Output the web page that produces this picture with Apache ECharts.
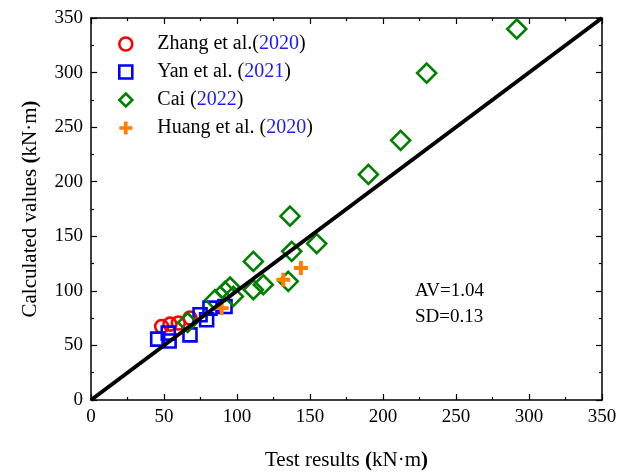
<!DOCTYPE html>
<html>
<head>
<meta charset="utf-8">
<script src="https://cdn.jsdelivr.net/npm/echarts@6/dist/echarts.min.js"></script>
<style>html,body{margin:0;padding:0;background:#fff}#c{width:619px;height:473px}</style>
</head>
<body>
<div id="c"></div>
<script>
var zhangX = [48.4, 54.1, 59.8, 67.8];
var zhangY = [67.3, 69.5, 70.5, 75.1];
var yanX = [45.7, 52.9, 53.5, 67.8, 74.7, 79.2, 81.5, 91.8];
var yanY = [55.8, 61.3, 54.0, 59.7, 78.1, 73.5, 84.2, 85.7];
var caiX = [66.2, 84.9, 91.8, 95.2, 97.5, 111.2, 111.2, 118.0, 135.1, 136.3, 137.5, 154.6, 190.0, 212.1, 229.9, 291.6];
var caiY = [71.0, 91.9, 99.5, 103.5, 94.9, 101.0, 127.0, 105.6, 108.7, 168.4, 136.2, 143.3, 206.7, 237.9, 299.5, 339.9];
var huangX = [89.5, 131.7, 143.8];
var huangY = [84.2, 110.2, 121.0];
var lineX = [0, 350];
var lineY = [0, 350];
var ticks = [0, 50, 100, 150, 200, 250, 300, 350];
var seriesNames = ['Zhang et al.(2020)', 'Yan et al. (2021)', 'Cai (2022)', 'Huang et al. (2020)'];
var legendPre = ['Zhang et al.(', 'Yan et al. (', 'Cai (', 'Huang et al. ('];
var legendYear = ['2020', '2021', '2022', '2020'];
var stats = ['AV=1.04', 'SD=0.13'];

function pairs(xs, ys) { return xs.map(function (x, i) { return [x, ys[i]]; }); }
var FONT = '"Liberation Serif", "Times New Roman", serif';
var plusPath = 'path://M3.6,0 H6.4 V3.6 H10 V6.4 H6.4 V10 H3.6 V6.4 H0 V3.6 H3.6 Z';
var RED = '#ff0000', BLUE = '#0000ff', GREEN = '#008000', ORANGE = '#ff7f00';
function hollow(c) { return { color: 'rgba(255,255,255,0)', borderColor: c, borderWidth: 2.6, opacity: 1 }; }

var chart = echarts.init(document.getElementById('c'));
var axisCommon = {
  type: 'value', min: 0, max: 350, interval: 50,
  axisLine: { show: true, onZero: false, lineStyle: { color: '#000', width: 1.5 } },
  axisTick: { show: true, inside: true, length: 6, lineStyle: { color: '#000', width: 1.2 } },
  minorTick: { show: true, splitNumber: 2, length: 3, lineStyle: { color: '#000', width: 1.2 } },
  splitLine: { show: false },
  axisLabel: { color: '#000', fontFamily: FONT, fontSize: 19 }
};
function ax(extra) { return Object.assign(JSON.parse(JSON.stringify(axisCommon)), extra); }
var nameStyle = { color: '#000', fontFamily: FONT, fontSize: 21, rich: { b: { fontFamily: FONT, fontSize: 21, fontWeight: 'bold', color: '#000' } } };

chart.setOption({
  animation: false,
  backgroundColor: '#fff',
  grid: { left: 91, right: 17, top: 18, bottom: 73, containLabel: false, outerBoundsMode: 'none' },
  xAxis: [
    ax({ position: 'bottom', name: 'Test results {b|(}kN·m{b|)}', nameLocation: 'middle', nameGap: 50,
      nameTextStyle: nameStyle,
      axisLabel: { color: '#000', fontFamily: FONT, fontSize: 19, margin: 8 } }),
    ax({ position: 'top', axisLabel: { show: false } })
  ],
  yAxis: [
    ax({ position: 'left', name: 'Calculated values {b|(}kN·m{b|)}', nameLocation: 'middle', nameGap: 50,
      nameTextStyle: nameStyle,
      axisLabel: { color: '#000', fontFamily: FONT, fontSize: 19, margin: 8 } }),
    ax({ position: 'right', axisLabel: { show: false } })
  ],
  legend: {
    orient: 'vertical', left: 113, top: 29, itemGap: 8, itemWidth: 13, itemHeight: 13,
    data: [
      { name: seriesNames[0], icon: 'circle', itemStyle: hollow(RED) },
      { name: seriesNames[1], icon: 'rect', itemStyle: hollow(BLUE) },
      { name: seriesNames[2], icon: 'diamond', itemStyle: hollow(GREEN) },
      { name: seriesNames[3], icon: plusPath, itemStyle: { color: ORANGE, borderWidth: 0, opacity: 1 } }
    ],
    formatter: function (n) {
      var i = seriesNames.indexOf(n);
      return '{a|' + legendPre[i] + '}{y|' + legendYear[i] + '}{a|)}';
    },
    textStyle: {
      padding: [0, 0, 0, 20],
      rich: {
        a: { fontFamily: FONT, fontSize: 20, color: '#000' },
        y: { fontFamily: FONT, fontSize: 20, color: '#1a1aff' }
      }
    }
  },
  graphic: [
    { type: 'text', left: 415, top: 282, style: { text: stats[0], fontFamily: FONT, fontSize: 19, fill: '#000' } },
    { type: 'text', left: 415, top: 308, style: { text: stats[1], fontFamily: FONT, fontSize: 19, fill: '#000' } }
  ],
  series: [
    { name: seriesNames[0], type: 'scatter', data: pairs(zhangX, zhangY), symbol: 'circle', symbolSize: 13,
      itemStyle: hollow(RED), z: 2 },
    { name: seriesNames[1], type: 'scatter', data: pairs(yanX, yanY), symbol: 'rect', symbolSize: 13,
      itemStyle: hollow(BLUE), z: 2 },
    { name: seriesNames[2], type: 'scatter', data: pairs(caiX, caiY), symbol: 'diamond', symbolSize: 19,
      itemStyle: hollow(GREEN), z: 2 },
    { name: seriesNames[3], type: 'scatter', data: pairs(huangX, huangY), symbol: plusPath, symbolSize: 14,
      itemStyle: { color: ORANGE, opacity: 1 }, z: 2 },
    { name: 'line', type: 'line', data: pairs(lineX, lineY), symbol: 'none', z: 3,
      lineStyle: { color: '#000', width: 4 } }
  ]
});
</script>
</body>
</html>
